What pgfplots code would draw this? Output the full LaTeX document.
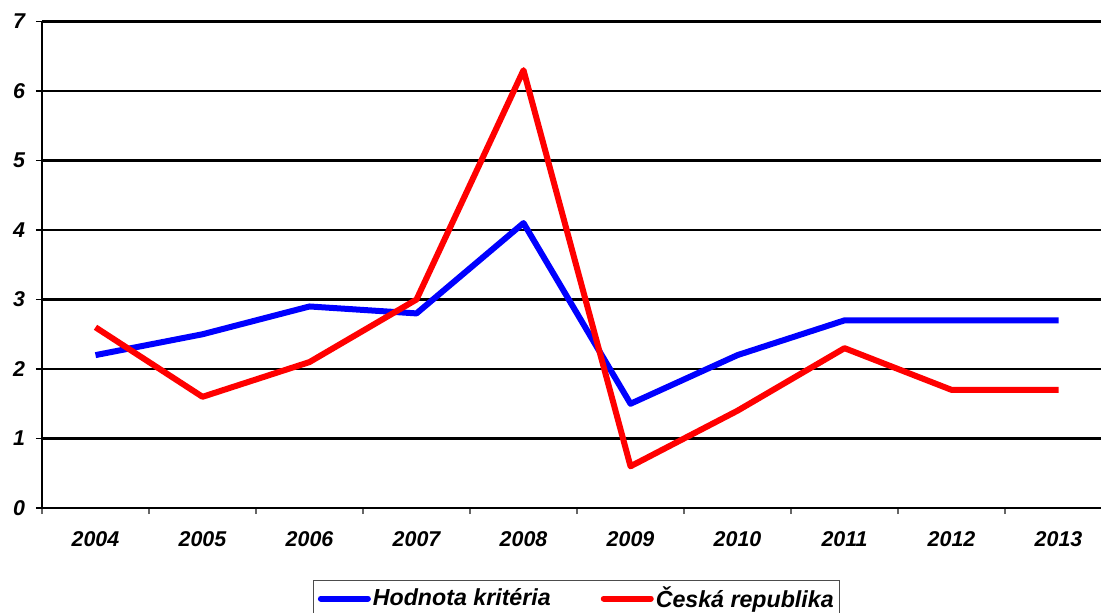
\documentclass[border=0pt]{standalone}
\usepackage{fontspec}
\setmainfont{Liberation Sans}
\usepackage{pgfplots}
\pgfplotsset{compat=1.18}
\begin{document}
\begin{tikzpicture}
\useasboundingbox (0,0) rectangle (550.5pt,306pt);
\clip (0,0) rectangle (550.5pt,306pt);
\begin{axis}[
  at={(21pt,52pt)}, anchor=south west,
  scale only axis, width=529.5pt, height=243.25pt,
  xmin=-0.5, xmax=9.397, ymin=0, ymax=7,
  axis x line=bottom, axis y line=left,
  axis line style={-, black, line width=0.6pt},
  xtick={0,...,9},
  xticklabels={2004,2005,2006,2007,2008,2009,2010,2011,2012,2013},
  major x tick style={draw=none},
  minor xtick={-0.5,0.5,...,8.5},
  minor x tick style={black!60, line width=0.8pt},
  minor tick length=3pt,
  ytick={0,...,7},
  ytick style={black, line width=0.6pt},
  major tick length=3pt,
  tick align=outside,
  ymajorgrids, grid style={black, line width=1.1pt},
  /pgf/number format/assume math mode=true,
  tick label style={font=\fontsize{10.7}{12}\selectfont\bfseries\itshape},
  xticklabel style={yshift=-5pt},
  yticklabel style={xshift=-2pt},
  legend style={at={(0.505,-0.148)}, anchor=north, draw=black!70, line width=0.6pt,
    legend columns=2, font=\fontsize{11.6}{13}\selectfont\bfseries\itshape,
    /tikz/every even column/.append style={column sep=24pt},
    nodes={inner xsep=1pt, inner ysep=1pt},
    inner xsep=2pt, inner ysep=2pt},
  legend image code/.code={\draw[#1, line cap=round] (1.5pt,0pt) -- (25pt,0pt);},
  legend cell align=left,
]
\addplot[color={rgb,255:red,0;green,0;blue,255}, line width=3pt, line join=round] coordinates {
(0,2.2) (1,2.5) (2,2.9) (3,2.8) (4,4.1) (5,1.5) (6,2.2) (7,2.7) (8,2.7) (9,2.7)};
\addlegendentry{Hodnota kritéria}
\addplot[color={rgb,255:red,255;green,0;blue,0}, line width=3pt, line join=round] coordinates {
(0,2.6) (1,1.6) (2,2.1) (3,3.0) (4,6.3) (5,0.6) (6,1.4) (7,2.3) (8,1.7) (9,1.7)};
\addlegendentry{Česká republika}
\end{axis}
\end{tikzpicture}
\end{document}
